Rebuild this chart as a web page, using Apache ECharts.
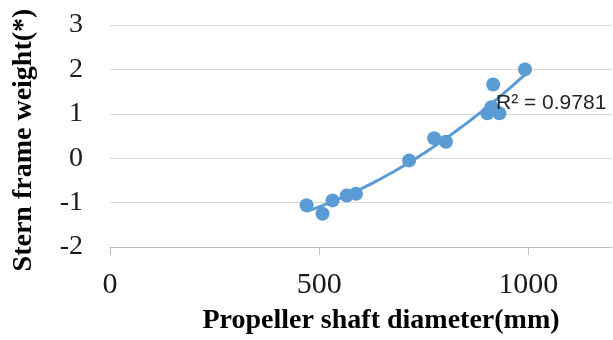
<!DOCTYPE html>
<html>
<head>
<meta charset="utf-8">
<script src="https://cdn.jsdelivr.net/npm/echarts@6/dist/echarts.min.js"></script>
<style>
  html, body { margin: 0; padding: 0; background: #fff; }
  #chart { width: 613px; height: 340px; }
</style>
</head>
<body>
<div id="chart"></div>
<script>
// Propeller shaft diameter (mm) against normalised stern frame weight
const shaftDiameter = [470, 508, 532, 566, 588, 715, 775, 803, 902, 912, 916, 931, 992];
const sternWeight   = [-1.06, -1.25, -0.95, -0.84, -0.80, -0.05, 0.45, 0.37, 1.01, 1.15, 1.66, 1.01, 2.00];
const xTickValues = [0, 500, 1000];
const rSquaredLabel = 'R\u00B2 = 0.9781';

// Second-order least-squares trendline through the measured points
function quadraticFit(xs, ys) {
  const s = [0, 0, 0, 0, 0], t = [0, 0, 0];
  for (let i = 0; i < xs.length; i++) {
    const u = xs[i] / 1000;
    let p = 1;
    for (let k = 0; k < 5; k++) { s[k] += p; if (k < 3) t[k] += p * ys[i]; p *= u; }
  }
  const A = [[s[0], s[1], s[2], t[0]], [s[1], s[2], s[3], t[1]], [s[2], s[3], s[4], t[2]]];
  for (let c = 0; c < 3; c++) {
    for (let r = c + 1; r < 3; r++) {
      const f = A[r][c] / A[c][c];
      for (let k = c; k < 4; k++) A[r][k] -= f * A[c][k];
    }
  }
  const coef = [0, 0, 0];
  for (let r = 2; r >= 0; r--) {
    let v = A[r][3];
    for (let k = r + 1; k < 3; k++) v -= A[r][k] * coef[k];
    coef[r] = v / A[r][r];
  }
  return x => { const u = x / 1000; return coef[0] + coef[1] * u + coef[2] * u * u; };
}

const trend = quadraticFit(shaftDiameter, sternWeight);
const xMin = Math.min(...shaftDiameter), xMax = Math.max(...shaftDiameter);
const trendData = [];
for (let i = 0; i <= 60; i++) {
  const x = xMin + (xMax - xMin) * i / 60;
  trendData.push([x, trend(x)]);
}

const blue = '#5B9BD5';
const chart = echarts.init(document.getElementById('chart'), null, { renderer: 'canvas' });
chart.setOption({
  animation: false,
  backgroundColor: '#ffffff',
  grid: { left: 110, right: 1, top: 25, bottom: 91 },
  xAxis: {
    type: 'value',
    min: 0, max: 1200, interval: 500,
    name: 'Propeller shaft diameter(mm)',
    nameLocation: 'middle',
    nameGap: 60,
    nameTextStyle: {
      fontFamily: 'Liberation Serif', fontWeight: 'bold', fontSize: 28, color: '#000',
      padding: [0, 0, 0, 40]
    },
    axisLine: { show: true, onZero: false, lineStyle: { color: '#BFBFBF', width: 1 } },
    axisTick: { show: true, length: 8, customValues: xTickValues, lineStyle: { color: '#BFBFBF' } },
    axisLabel: {
      customValues: xTickValues,
      formatter: v => String(v),
      margin: 23,
      fontFamily: 'Liberation Serif', fontSize: 30, color: '#1a1a1a'
    },
    splitLine: { show: false }
  },
  yAxis: {
    type: 'value',
    min: -2, max: 3, interval: 1,
    name: 'Stern frame weight(*)',
    nameLocation: 'middle',
    nameGap: 72,
    nameTextStyle: {
      fontFamily: 'Liberation Serif', fontWeight: 'bold', fontSize: 28, color: '#000',
      padding: [0, 8, 0, 0]
    },
    axisLine: { show: false },
    axisTick: { show: false },
    axisLabel: {
      formatter: v => String(v),
      margin: 27,
      fontFamily: 'Liberation Serif', fontSize: 28, color: '#1a1a1a'
    },
    splitLine: { show: true, lineStyle: { color: '#D9D9D9', width: 1 } }
  },
  series: [
    {
      type: 'scatter',
      data: shaftDiameter.map((x, i) => [x, sternWeight[i]]),
      symbol: 'circle',
      symbolSize: 14,
      itemStyle: { color: blue, opacity: 1 },
      z: 2
    },
    {
      type: 'line',
      data: trendData,
      showSymbol: false,
      smooth: false,
      lineStyle: { color: blue, width: 3 },
      z: 3
    }
  ],
  graphic: [{
    type: 'text',
    left: 496,
    top: 93,
    z: 10,
    style: {
      text: rSquaredLabel,
      fontFamily: 'Liberation Sans',
      fontSize: 21,
      fill: '#262626'
    }
  }]
});
</script>
</body>
</html>
